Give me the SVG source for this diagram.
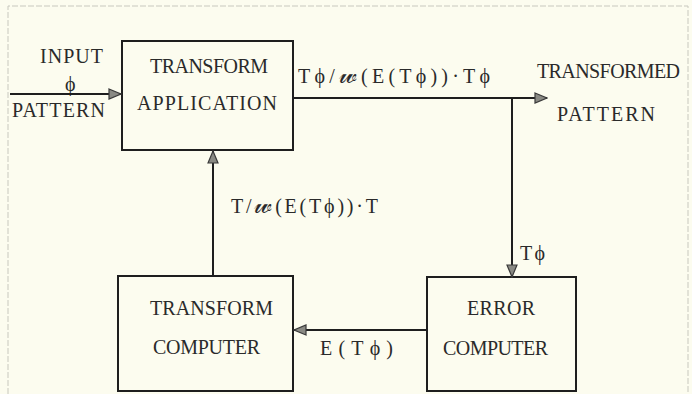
<svg xmlns="http://www.w3.org/2000/svg" width="692" height="394" viewBox="0 0 692 394">
<style>
.bg{fill:#fcfcef}
.box{fill:none;stroke:#1e1e1e;stroke-width:2}
.ln{fill:none;stroke:#1e1e1e;stroke-width:2}
.frame{fill:none;stroke:#c8c8be;stroke-width:1;stroke-dasharray:6 2}
.t{font-family:"Liberation Serif","DejaVu Serif",serif;font-size:20px;fill:#2a2a2a}
.w{font-size:26px}
</style>
<defs>
<marker id="ah" viewBox="0 0 14 12" refX="13" refY="6" markerWidth="14" markerHeight="12" markerUnits="userSpaceOnUse" orient="auto">
<path d="M1,1 L13,6 L1,11 Z" fill="#8a8a84" stroke="#3a3a3a" stroke-width="1.2"/>
</marker>
</defs>
<rect class="bg" x="0" y="0" width="692" height="394"/>
<path class="frame" d="M8,394 V6 H688 V394"/>
<g id="transform-application">
<rect class="box" x="122" y="41" width="171" height="109"/>
<text class="t" x="150" y="73" textLength="118" lengthAdjust="spacing">TRANSFORM</text>
<text class="t" x="137" y="110" textLength="140" lengthAdjust="spacing">APPLICATION</text>
</g>
<g id="transform-computer">
<rect class="box" x="118" y="276" width="175" height="115"/>
<text class="t" x="150" y="315" textLength="123" lengthAdjust="spacing">TRANSFORM</text>
<text class="t" x="153" y="354" textLength="107" lengthAdjust="spacing">COMPUTER</text>
</g>
<g id="error-computer">
<rect class="box" x="427" y="277" width="149" height="114"/>
<text class="t" x="467" y="315" textLength="68" lengthAdjust="spacing">ERROR</text>
<text class="t" x="443" y="355" textLength="105" lengthAdjust="spacing">COMPUTER</text>
</g>
<g id="input-pattern">
<text class="t" x="40" y="63" textLength="63" lengthAdjust="spacing">INPUT</text>
<text class="t" x="65" y="91">ϕ</text>
<text class="t" x="12" y="117" textLength="93" lengthAdjust="spacing">PATTERN</text>
</g>
<g id="transformed-pattern">
<text class="t" x="537" y="78" textLength="143" lengthAdjust="spacing">TRANSFORMED</text>
<text class="t" x="557" y="121" textLength="98" lengthAdjust="spacing">PATTERN</text>
</g>
<g id="connectors">
<path class="ln" d="M10,94 H121" marker-end="url(#ah)"/>
<path class="ln" d="M293,98 H547" marker-end="url(#ah)"/>
<path class="ln" d="M512,98 V277" marker-end="url(#ah)"/>
<path class="ln" d="M427,330 H294" marker-end="url(#ah)"/>
<path class="ln" d="M213,276 V151" marker-end="url(#ah)"/>
<text class="t" x="298" y="83" textLength="192" lengthAdjust="spacing">Tϕ/<tspan class="w">𝓌</tspan>(E(Tϕ))·Tϕ</text>
<text class="t" x="231" y="213" textLength="147" lengthAdjust="spacing">T/<tspan class="w">𝓌</tspan>(E(Tϕ))·T</text>
<text class="t" x="520" y="260" textLength="25" lengthAdjust="spacing">Tϕ</text>
<text class="t" x="320" y="355" textLength="73" lengthAdjust="spacing">E(Tϕ)</text>
</g>
</svg>
